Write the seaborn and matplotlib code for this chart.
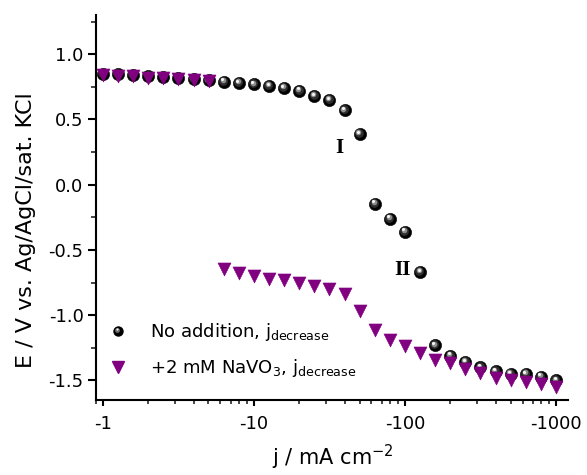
import matplotlib
matplotlib.use("Agg")
import matplotlib.pyplot as plt
import matplotlib.transforms as mtransforms
from matplotlib.lines import Line2D
from matplotlib.legend_handler import HandlerBase
from matplotlib.ticker import FixedLocator, LogLocator, NullFormatter, MultipleLocator
import numpy as np
import pandas as pd
import seaborn as sns

# Current density steps (mA cm^-2), decreasing from -1 to -1000
j_values = [-1.0, -1.26, -1.58, -2.0, -2.51, -3.16, -3.98, -5.01, -6.31, -7.94,
            -10.0, -12.6, -15.8, -20.0, -25.1, -31.6, -39.8, -50.1, -63.1, -79.4,
            -100.0, -126.0, -158.0, -200.0, -251.0, -316.0, -398.0, -501.0, -631.0, -794.0,
            -1000.0]

# Electrode potential (V vs. Ag/AgCl/sat. KCl), no additive
E_no_addition = [0.85, 0.845, 0.84, 0.83, 0.825, 0.815, 0.81, 0.80, 0.79, 0.78,
                 0.77, 0.755, 0.74, 0.72, 0.68, 0.65, 0.57, 0.39, -0.145, -0.26,
                 -0.36, -0.67, -1.23, -1.31, -1.36, -1.40, -1.43, -1.45, -1.45, -1.47,
                 -1.50]

# Electrode potential with 2 mM NaVO3 added
E_navo3 = [0.84, 0.835, 0.83, 0.82, 0.815, 0.81, 0.80, 0.795, -0.65, -0.68,
           -0.70, -0.72, -0.73, -0.75, -0.78, -0.80, -0.84, -0.97, -1.11, -1.19,
           -1.24, -1.29, -1.34, -1.37, -1.41, -1.44, -1.48, -1.50, -1.51, -1.53,
           -1.55]

x_ticks = [1, 10, 100, 1000]
x_tick_labels = ["-1", "-10", "-100", "-1000"]
y_ticks = [-1.5, -1.0, -0.5, 0.0, 0.5, 1.0]

label_none = r"No addition, j$_{\mathregular{decrease}}$"
label_navo3 = r"+2 mM NaVO$_{\mathregular{3}}$, j$_{\mathregular{decrease}}$"

sns.set_style("ticks")
plt.rcParams["font.family"] = ["DejaVu Sans"]
plt.rcParams["mathtext.default"] = "regular"
plt.rcParams["text.color"] = "black"
plt.rcParams["axes.labelcolor"] = "black"

df = pd.DataFrame({
    "j_abs": np.abs(j_values),
    "E_none": E_no_addition,
    "E_navo3": E_navo3,
})

fig = plt.figure(figsize=(5.87, 4.75), dpi=100)
ax = fig.add_axes([96 / 587, 1 - 400 / 475, (568 - 96) / 587, (400 - 15) / 475])

purple = "#800080"

# Black spheres: dark body plus shaded highlight layers
sns.scatterplot(data=df, x="j_abs", y="E_none", ax=ax, marker="o", s=78,
                color="black", edgecolor="black", linewidth=0.4, legend=False, zorder=3)
for size, col, dx, dy in [(40, "#2e2e2e", -0.5, 0.7), (16, "#8c8c8c", -0.9, 1.2),
                          (5, "#f4f4f4", -1.1, 1.6)]:
    shift = mtransforms.offset_copy(ax.transData, fig=fig, x=dx, y=dy, units="points")
    ax.scatter(df["j_abs"], df["E_none"], s=size, color=col, linewidths=0,
               transform=shift, zorder=3.1)

# Purple downward triangles
sns.scatterplot(data=df, x="j_abs", y="E_navo3", ax=ax, marker="v", s=88,
                color=purple, edgecolor=purple, linewidth=0.4, legend=False, zorder=4)

ax.set_xscale("log")
ax.set_xlim(0.9, 1200)
ax.set_ylim(-1.65, 1.3)
ax.xaxis.set_major_locator(FixedLocator(x_ticks))
ax.set_xticklabels(x_tick_labels)
ax.xaxis.set_minor_locator(LogLocator(base=10, subs=np.arange(2, 10)))
ax.xaxis.set_minor_formatter(NullFormatter())
ax.yaxis.set_major_locator(FixedLocator(y_ticks))
ax.set_yticklabels([f"{v:.1f}" for v in y_ticks])
ax.yaxis.set_minor_locator(MultipleLocator(0.25))

for side in ("top", "right"):
    ax.spines[side].set_visible(False)
for side in ("left", "bottom"):
    ax.spines[side].set_linewidth(1.5)
    ax.spines[side].set_color("black")

ax.tick_params(axis="both", which="major", direction="out", width=1.5,
               labelsize=13, colors="black")
ax.tick_params(axis="y", which="major", length=5.5, pad=3.5)
ax.tick_params(axis="x", which="major", length=4.5, pad=6)
ax.tick_params(axis="y", which="minor", direction="out", length=3.5, width=1.2)
ax.tick_params(axis="x", which="minor", direction="out", length=2.8, width=1.2)

ax.set_xlabel(r"j / mA cm$^{\mathregular{-2}}$", fontsize=15)
ax.set_ylabel("E / V vs. Ag/AgCl/sat. KCl", fontsize=16)
ax.xaxis.set_label_coords(0.502, -0.11)
ax.yaxis.set_label_coords(-0.128, 0.44)

# Region markers
ax.text(36.5, 0.28, "I", fontsize=15, fontweight="bold", family="Liberation Serif",
        ha="center", va="center", color="black")
ax.text(97, -0.655, "II", fontsize=15, fontweight="bold", family="Liberation Serif",
        ha="center", va="center", color="black")


class HandlerBall(HandlerBase):
    """Legend key drawn as a small shaded black sphere."""

    def create_artists(self, legend, orig_handle, xdescent, ydescent, width, height,
                       fontsize, trans):
        cx = width / 2 - xdescent
        cy = height / 2 - ydescent
        body = Line2D([cx], [cy], marker="o", linestyle="none", markersize=7.5,
                      markerfacecolor="black", markeredgewidth=0, transform=trans)
        shade = Line2D([cx - 0.5], [cy + 0.7], marker="o", linestyle="none",
                       markersize=3.5, markerfacecolor="#6a6a6a", markeredgewidth=0,
                       transform=trans)
        spot = Line2D([cx - 0.8], [cy + 1.2], marker="o", linestyle="none",
                      markersize=1.6, markerfacecolor="#f0f0f0", markeredgewidth=0,
                      transform=trans)
        return [body, shade, spot]


h_ball = Line2D([], [], marker="o", linestyle="none", color="black")
h_tri = Line2D([], [], marker="v", linestyle="none", markersize=8, color=purple)
ax.legend([h_ball, h_tri], [label_none, label_navo3],
          handler_map={h_ball: HandlerBall()},
          loc="upper left", bbox_to_anchor=(0.0, 0.237), frameon=False, fontsize=13,
          handlelength=1.0, handletextpad=1.3, labelspacing=0.75, borderaxespad=0.3,
          borderpad=0.4)

fig.savefig("out.png", dpi=100)
